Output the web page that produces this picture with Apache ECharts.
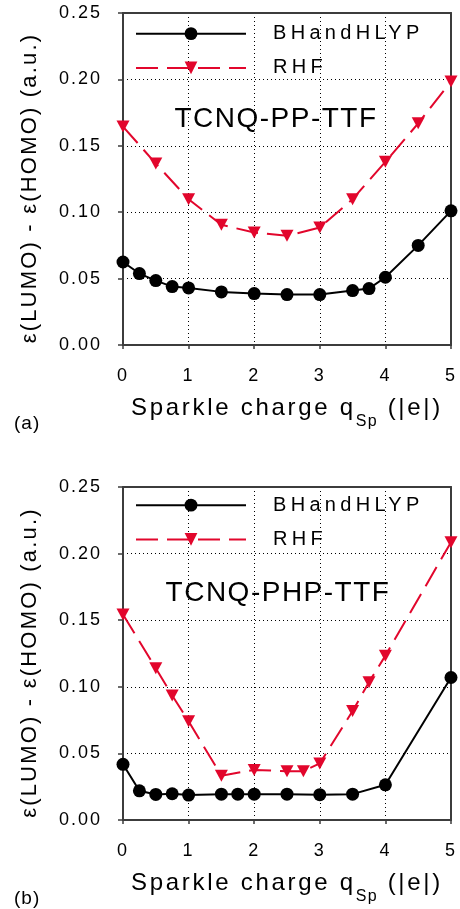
<!DOCTYPE html>
<html>
<head>
<meta charset="utf-8">
<script src="https://cdn.jsdelivr.net/npm/echarts@6/dist/echarts.min.js"></script>
<style>
html,body{margin:0;padding:0;background:#fff;}
#c{width:460px;height:909px;}
</style>
</head>
<body>
<div id="c"></div>
<script>
// ---- data ----
const xTickLabels = ['0','1','2','3','4','5'];
const seriesNames = ['BHandHLYP', 'RHF'];
const panelTitles = ['TCNQ-PP-TTF', 'TCNQ-PHP-TTF'];
const panelTags = ['(a)', '(b)'];

const xTopB = [0, 0.25, 0.5, 0.75, 1, 1.5, 2, 2.5, 3, 3.5, 3.75, 4, 4.5, 5];
const yTopB = [0.0625, 0.0538, 0.0485, 0.0440, 0.0430, 0.0400, 0.0387, 0.0380, 0.0380, 0.0410, 0.0425, 0.0510, 0.0750, 0.1010];
const xTopR = [0, 0.5, 1, 1.5, 2, 2.5, 3, 3.5, 4, 4.5, 5];
const yTopR = [0.1645, 0.1366, 0.1098, 0.0905, 0.0847, 0.0822, 0.0884, 0.1098, 0.1379, 0.1669, 0.1985];

const xBotB = [0, 0.25, 0.5, 0.75, 1, 1.5, 1.75, 2, 2.5, 3, 3.5, 4, 5];
const yBotB = [0.0418, 0.0219, 0.0192, 0.0197, 0.0187, 0.0194, 0.0194, 0.0194, 0.0194, 0.0190, 0.0194, 0.0264, 0.1070];
const xBotR = [0, 0.5, 0.75, 1, 1.5, 2, 2.5, 2.75, 3, 3.5, 3.75, 4, 5];
const yBotR = [0.1543, 0.1140, 0.0935, 0.0741, 0.0333, 0.0376, 0.0366, 0.0366, 0.0425, 0.0818, 0.1035, 0.1234, 0.2086];

// ---- letter spacing helper (font family marker "lsNN" = NN/10 px) ----
(function(){
  const P = CanvasRenderingContext2D.prototype;
  const oF = P.fillText, oS = P.strokeText, oM = P.measureText;
  function ls(ctx){
    const m = /\bls(\d+)\b/.exec(ctx.font || '');
    const v = m ? (parseInt(m[1], 10) / 10) + 'px' : '0px';
    if ('letterSpacing' in ctx && ctx.letterSpacing !== v) ctx.letterSpacing = v;
  }
  P.fillText = function(){ ls(this); return oF.apply(this, arguments); };
  P.strokeText = function(){ ls(this); return oS.apply(this, arguments); };
  P.measureText = function(){ ls(this); return oM.apply(this, arguments); };
})();

const FF = '"Liberation Sans"';
const RED = '#e2062c';
const FRAME = '#3c3c3c';

function pts(xs, ys){ return xs.map((x, i) => [x, ys[i]]); }

const grids = [
  {left: 123, top: 13, width: 332, height: 332},
  {left: 123, top: 487, width: 332, height: 333}
];

const xAxes = [], yAxes = [];
grids.forEach((g, gi) => {
  xAxes.push({
    gridIndex: gi, type: 'value', min: 0, max: 5, interval: 1, position: 'bottom',
    axisLine: {show: true, onZero: false, lineStyle: {color: FRAME, width: 2}},
    axisTick: {show: true, length: 4, lineStyle: {color: FRAME, width: 1.5}},
    axisLabel: {margin: 21, fontSize: 18, color: '#000', fontFamily: FF + ', ls20',
      formatter: v => xTickLabels[Math.round(v)]},
    splitLine: {show: true, lineStyle: {type: [1, 3], color: '#000', width: 1}},
    name: '{a|Sparkle charge q}{b|Sp}{a| (|e|)}',
    nameLocation: 'middle', nameGap: 50,
    nameTextStyle: {
      color: '#000',
      rich: {
        a: {fontSize: 24, fontFamily: FF + ', ls27', color: '#000', lineHeight: 24, verticalAlign: 'top'},
        b: {fontSize: 16, fontFamily: FF + ', ls15', color: '#000', lineHeight: 16, verticalAlign: 'top', padding: [18, 0, 0, 0]}
      }
    }
  });
  xAxes.push({
    gridIndex: gi, type: 'value', min: 0, max: 5, interval: 1, position: 'top',
    axisLine: {show: true, onZero: false, lineStyle: {color: FRAME, width: 2}},
    axisTick: {show: false}, axisLabel: {show: false}, splitLine: {show: false}
  });
  yAxes.push({
    gridIndex: gi, type: 'value', min: 0, max: 0.25, interval: 0.05, position: 'left',
    axisLine: {show: true, onZero: false, lineStyle: {color: FRAME, width: 2}},
    axisTick: {show: true, length: 5, lineStyle: {color: FRAME, width: 1.5}},
    axisLabel: {margin: 21, fontSize: 18, color: '#000', fontFamily: FF + ', ls20',
      formatter: v => v.toFixed(2)},
    splitLine: {show: true, lineStyle: {type: [1, 3], color: '#000', width: 1}},
    name: 'ε(LUMO) - ε(HOMO) (a.u.)',
    nameLocation: 'middle', nameGap: 81,
    nameTextStyle: {fontSize: 22, fontFamily: FF + ', ls22', color: '#000', padding: [0, 18, 0, 0]}
  });
  yAxes.push({
    gridIndex: gi, type: 'value', min: 0, max: 0.25, interval: 0.05, position: 'right',
    axisLine: {show: true, onZero: false, lineStyle: {color: FRAME, width: 2}},
    axisTick: {show: false}, axisLabel: {show: false}, splitLine: {show: false}
  });
});

function blackSeries(gi, data){
  return {
    name: seriesNames[0], type: 'line', xAxisIndex: gi * 2, yAxisIndex: gi * 2,
    data: data, symbol: 'circle', symbolSize: 13, clip: false,
    lineStyle: {color: '#000', width: 2},
    itemStyle: {color: '#000'}, z: 3
  };
}
function redSeries(gi, data){
  return {
    name: seriesNames[1], type: 'line', xAxisIndex: gi * 2, yAxisIndex: gi * 2,
    data: data, symbol: 'triangle', symbolRotate: 180, symbolSize: [13, 12], clip: false,
    lineStyle: {color: RED, width: 2, type: [22, 9]},
    itemStyle: {color: RED}, z: 4
  };
}

function legendAt(top){
  return {
    left: 135, top: top, orient: 'vertical', padding: 0,
    itemWidth: 110, itemHeight: 16, itemGap: 10,
    data: seriesNames,
    textStyle: {fontSize: 20, fontFamily: FF + ', ls43', color: '#000', padding: [0, 0, 0, 22]},
    selectedMode: false
  };
}

const titleStyle = {fontSize: 28, fontWeight: 'normal', fontFamily: FF + ', ls15', color: '#000'};
const tagStyle = {fontSize: 19, fontWeight: 'normal', fontFamily: FF + ', ls10', color: '#000'};

const option = {
  animation: false,
  backgroundColor: '#fff',
  grid: grids,
  xAxis: xAxes,
  yAxis: yAxes,
  legend: [legendAt(21.5), legendAt(493)],
  title: [
    {text: panelTitles[0], left: 276, top: 104.5, textAlign: 'center', padding: 0, textStyle: titleStyle},
    {text: panelTitles[1], left: 278, top: 578.5, textAlign: 'center', padding: 0, textStyle: titleStyle},
    {text: panelTags[0], left: 14, top: 413.5, padding: 0, textStyle: tagStyle},
    {text: panelTags[1], left: 14, top: 888.5, padding: 0, textStyle: tagStyle}
  ],
  series: [
    blackSeries(0, pts(xTopB, yTopB)),
    redSeries(0, pts(xTopR, yTopR)),
    blackSeries(1, pts(xBotB, yBotB)),
    redSeries(1, pts(xBotR, yBotR))
  ]
};

const chart = echarts.init(document.getElementById('c'), null, {renderer: 'canvas', width: 460, height: 909});
chart.setOption(option);
</script>
</body>
</html>
